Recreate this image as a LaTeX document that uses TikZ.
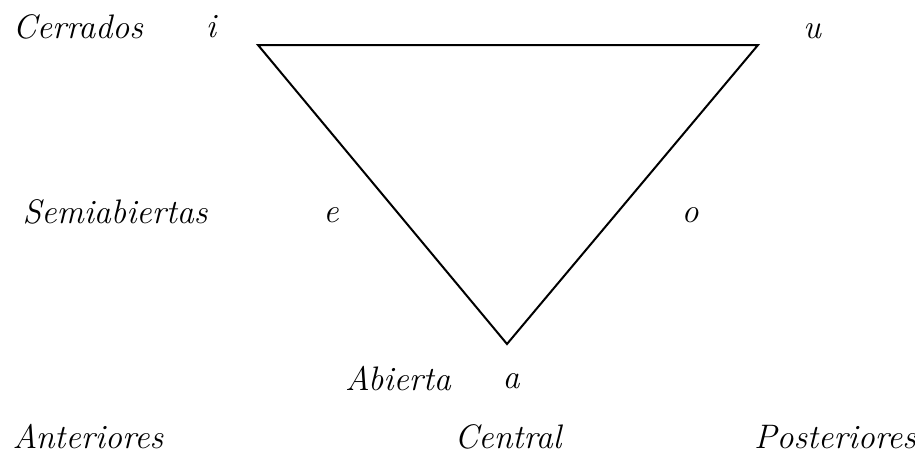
\documentclass[tikz,border=0pt]{standalone}
\usetikzlibrary{positioning}

\tikzset{
  lbl/.style={font=\fontsize{17}{20}\selectfont\itshape, inner sep=0pt},
  vow/.style={font=\fontsize{17}{20}\selectfont\itshape, inner sep=0pt}
}

\begin{document}
\begin{tikzpicture}[x=0.5pt,y=-0.5pt, line width=1pt]
\useasboundingbox (0,0) rectangle (915,455);

% =========================
% triangle
% =========================
\coordinate (ci) at (258,45);
\coordinate (cu) at (758,45);
\coordinate (ca) at (507,344);
\draw (ci) -- (cu) -- (ca) -- cycle;

% =========================
% rows
% =========================
\node[lbl] (cerrados) at (78,27) {Cerrados};
\node[lbl] (semiab) at (115,212) {Semiabiertas};
\node[lbl] (abierta) at (398,379) {Abierta};

% =========================
% vowels
% =========================
\node[vow] (vi) at (211,27) {i};
\node[vow] (vu) at (812,31) {u};
\node[vow] (ve) at (331,215) {e};
\node[vow] (vo) at (690,215) {o};
\node[vow] (va) at (511,381) {a};

% =========================
% columns
% =========================
\node[lbl] (anter) at (88,437) {Anteriores};
\node[lbl] (central) at (508,437) {Central};
\node[lbl] (poster) at (835,437) {Posteriores};

\end{tikzpicture}
\end{document}
